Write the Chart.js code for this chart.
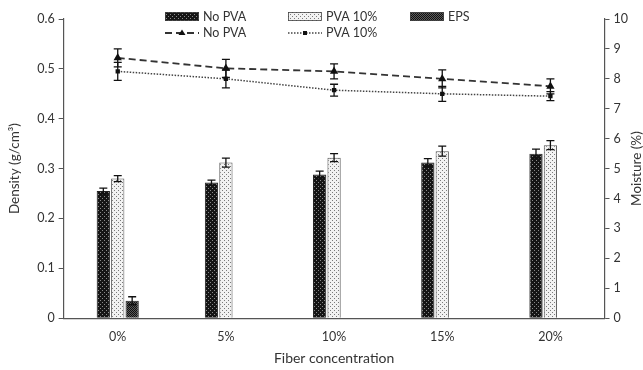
<!DOCTYPE html>
<html lang="en">
<head>
  <meta charset="UTF-8">
  <title>Density and moisture</title>
  <style>
    html, body { margin: 0; padding: 0; background: #fff; }
    .grafico { width: 643px; height: 370px; }
  </style>
</head>
<body>
  <div class="grafico">
    <canvas id="myChart"></canvas>
  </div>

<script src="https://cdn.jsdelivr.net/npm/chart.js"></script>
<script>
  // dados
  const categorias = ['0%', '5%', '10%', '15%', '20%'];

  const densNoPva = [0.255, 0.272, 0.288, 0.312, 0.330];
  const densNoPvaErr = [0.006, 0.005, 0.007, 0.008, 0.009];
  const densPva = [0.280, 0.312, 0.322, 0.335, 0.347];
  const densPvaErr = [0.006, 0.009, 0.008, 0.010, 0.009];
  const densEps = [0.035, null, null, null, null];
  const densEpsErr = [0.008, null, null, null, null];

  const umidNoPva = [8.7, 8.35, 8.25, 8.0, 7.75];
  const umidNoPvaErr = [0.3, 0.3, 0.25, 0.3, 0.25];
  const umidPva = [8.25, 8.0, 7.62, 7.5, 7.42];
  const umidPvaErr = [0.3, 0.3, 0.2, 0.25, 0.15];

  const ticksDensidade = [0, 0.1, 0.2, 0.3, 0.4, 0.5, 0.6];
  const ticksUmidade = [0, 1, 2, 3, 4, 5, 6, 7, 8, 9, 10];

  const fonte = 'Lato, "Open Sans", sans-serif';
  const corTexto = '#333';

  // padroes de preenchimento
  function padrao(fundo, ponto, passo) {
    const c = document.createElement('canvas');
    c.width = passo; c.height = passo;
    const ctx = c.getContext('2d');
    ctx.fillStyle = fundo;
    ctx.fillRect(0, 0, passo, passo);
    ctx.fillStyle = ponto;
    ctx.fillRect(0, 0, 1, 1);
    ctx.fillRect(Math.floor(passo / 2), Math.floor(passo / 2), 1, 1);
    return document.createElement('canvas').getContext('2d').createPattern(c, 'repeat');
  }
  const padraoPreto = padrao('#151515', '#8a8a8a', 4);
  const padraoClaro = padrao('#f2f2f2', '#7a7a7a', 4);
  const padraoEps = padrao('#5a5a5a', '#101010', 2);

  // barras de erro
  const errorBars = {
    id: 'errorBars',
    afterDatasetsDraw(chart) {
      const ctx = chart.ctx;
      ctx.save();
      ctx.strokeStyle = '#111';
      ctx.lineWidth = 1.3;
      chart.data.datasets.forEach(function (ds, i) {
        if (!ds.erros) return;
        const meta = chart.getDatasetMeta(i);
        const escala = chart.scales[ds.yAxisID];
        meta.data.forEach(function (el, j) {
          const v = ds.data[j];
          const e = ds.erros[j];
          if (v == null || e == null) return;
          const x = el.x;
          const yTop = escala.getPixelForValue(v + e);
          const yBot = escala.getPixelForValue(v - e);
          const w = 4;
          ctx.beginPath();
          ctx.moveTo(x, yTop); ctx.lineTo(x, yBot);
          ctx.moveTo(x - w, yTop); ctx.lineTo(x + w, yTop);
          ctx.moveTo(x - w, yBot); ctx.lineTo(x + w, yBot);
          ctx.stroke();
        });
      });
      ctx.restore();
    }
  };

  // legenda e titulo do eixo direito
  const legendaPropria = {
    id: 'legendaPropria',
    afterDraw(chart) {
      const ctx = chart.ctx;
      const ds = chart.data.datasets;
      ctx.save();
      ctx.font = '12.5px ' + fonte;
      ctx.fillStyle = corTexto;
      ctx.textBaseline = 'middle';

      const caixas = [[165, ds[0]], [288, ds[1]], [410, ds[2]]];
      caixas.forEach(function (c) {
        ctx.fillStyle = c[1].backgroundColor;
        ctx.fillRect(c[0], 12, 34, 9);
        ctx.strokeStyle = '#444';
        ctx.lineWidth = 0.8;
        ctx.strokeRect(c[0] + 0.5, 12.5, 33, 8);
        ctx.fillStyle = corTexto;
        ctx.fillText(c[1].label, c[0] + 38, 17);
      });

      const linhas = [[165, ds[3]], [288, ds[4]]];
      linhas.forEach(function (l) {
        ctx.strokeStyle = l[1].borderColor;
        ctx.lineWidth = l[1].borderWidth;
        ctx.setLineDash(l[1].borderDash);
        ctx.beginPath();
        ctx.moveTo(l[0], 33); ctx.lineTo(l[0] + 34, 33);
        ctx.stroke();
        ctx.setLineDash([]);
        ctx.fillStyle = '#111';
        if (l[1].pointStyle === 'triangle') {
          ctx.beginPath();
          ctx.moveTo(l[0] + 17, 29.5); ctx.lineTo(l[0] + 20.5, 35); ctx.lineTo(l[0] + 13.5, 35);
          ctx.closePath(); ctx.fill();
        } else {
          ctx.fillRect(l[0] + 15, 31, 4, 4);
        }
        ctx.fillStyle = corTexto;
        ctx.fillText(l[1].label, l[0] + 38, 33);
      });

      // titulo do eixo da direita, lido de baixo para cima
      const a = chart.chartArea;
      ctx.translate(637, (a.top + a.bottom) / 2);
      ctx.rotate(-Math.PI / 2);
      ctx.textAlign = 'center';
      ctx.font = '13.5px ' + fonte;
      ctx.fillText('Moisture (%)', 0, 0);
      ctx.restore();
    }
  };

  const dados = {
    labels: categorias,
    datasets: [
      { type: 'bar', label: 'No PVA', data: densNoPva, erros: densNoPvaErr, yAxisID: 'y',
        backgroundColor: padraoPreto, borderColor: '#222', borderWidth: 1, order: 2 },
      { type: 'bar', label: 'PVA 10%', data: densPva, erros: densPvaErr, yAxisID: 'y',
        backgroundColor: padraoClaro, borderColor: '#555', borderWidth: 1, order: 2 },
      { type: 'bar', label: 'EPS', data: densEps, erros: densEpsErr, yAxisID: 'y',
        backgroundColor: padraoEps, borderColor: '#222', borderWidth: 1, order: 2 },
      { type: 'line', label: 'No PVA', data: umidNoPva, erros: umidNoPvaErr, yAxisID: 'y2',
        borderColor: '#333', borderWidth: 1.8, borderDash: [7, 4], fill: false,
        pointStyle: 'triangle', pointRadius: 3, pointBackgroundColor: '#111', pointBorderColor: '#111', order: 1 },
      { type: 'line', label: 'PVA 10%', data: umidPva, erros: umidPvaErr, yAxisID: 'y2',
        borderColor: '#444', borderWidth: 1.5, borderDash: [1.5, 1.5], fill: false,
        pointStyle: 'rect', pointRadius: 2, pointBackgroundColor: '#111', pointBorderColor: '#111', order: 1 }
    ]
  };

  const eixoComum = {
    border: { display: true, color: '#555', width: 1.2 },
    grid: { display: true, drawOnChartArea: false, drawTicks: true, tickLength: 5, color: '#555' },
    ticks: { color: corTexto, font: { family: fonte, size: 12.5 }, padding: 4 }
  };

  const config = {
    data: dados,
    options: {
      responsive: true,
      maintainAspectRatio: false,
      animation: false,
      layout: { padding: { top: 19, right: 11, left: 5, bottom: 1 } },
      datasets: { bar: { categoryPercentage: 0.4, barPercentage: 0.92 } },
      plugins: { legend: { display: false }, tooltip: { enabled: false } },
      scales: {
        x: {
          border: { display: true, color: '#555', width: 1.2 },
          grid: { display: false },
          ticks: { color: corTexto, font: { family: fonte, size: 12.5 }, padding: 3 },
          title: { display: true, text: 'Fiber concentration', color: corTexto,
            font: { family: fonte, size: 14 }, padding: { top: 3, bottom: 2 } }
        },
        y: Object.assign({}, eixoComum, {
          position: 'left', min: 0, max: 0.6,
          afterBuildTicks: function (s) { s.ticks = ticksDensidade.map(v => ({ value: v })); },
          ticks: Object.assign({}, eixoComum.ticks, { callback: v => String(Math.round(v * 10) / 10) }),
          title: { display: true, text: 'Density (g/cm\u00B3)', color: corTexto,
            font: { family: fonte, size: 13.5 }, padding: { top: 2, bottom: 10 } }
        }),
        y2: Object.assign({}, eixoComum, {
          position: 'right', min: 0, max: 10,
          afterBuildTicks: function (s) { s.ticks = ticksUmidade.map(v => ({ value: v })); }
        })
      }
    },
    plugins: [errorBars, legendaPropria]
  };

  let myChart = new Chart(document.getElementById('myChart'), config);
</script>
</body>
</html>
